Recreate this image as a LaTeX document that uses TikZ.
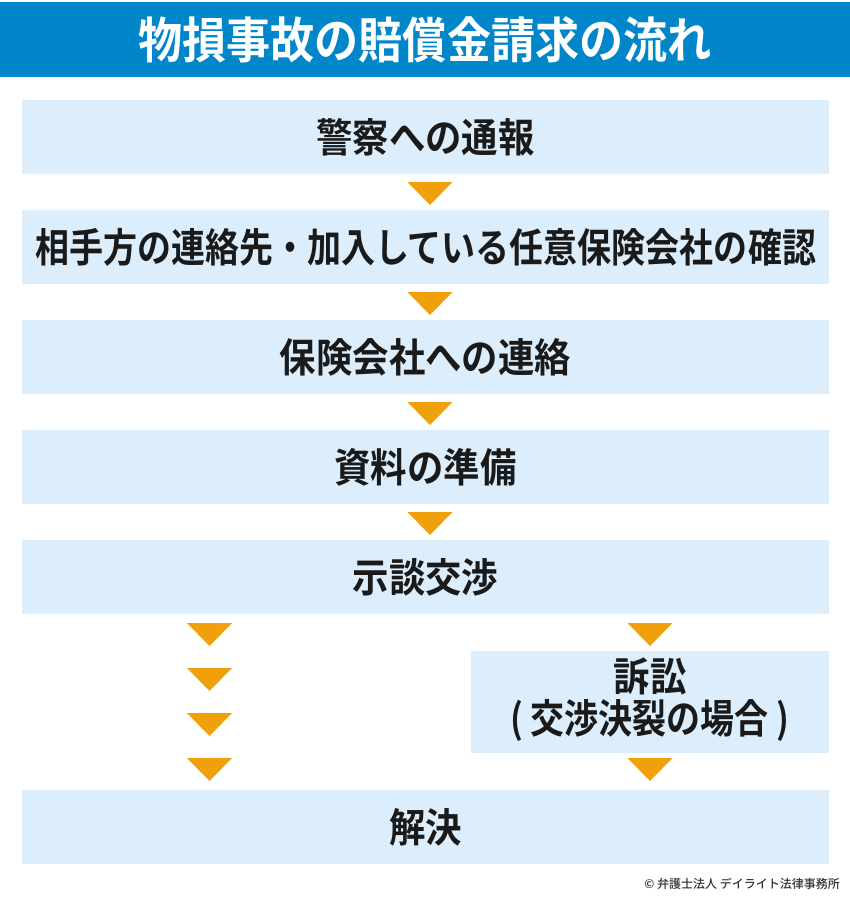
\documentclass[tikz,border=0pt]{standalone}
\usepackage{fontspec}
\newfontfamily\jpb{Noto Sans CJK JP Bold}[FakeStretch=0.91]
\newfontfamily\jpt{Noto Sans CJK JP Bold}[FakeStretch=0.9]
\newfontfamily\jpl{Noto Sans CJK JP Bold}[FakeStretch=0.85]
\newfontfamily\jpc{Noto Sans CJK JP Medium}
\definecolor{barc}{HTML}{0086C9}
\definecolor{boxc}{HTML}{DCEEFC}
\definecolor{tric}{HTML}{F0A00A}
\definecolor{txtc}{HTML}{1A1A1A}
\definecolor{copyc}{HTML}{333333}
\tikzset{
  stepbox/.style={fill=boxc, draw=none, inner sep=0pt, minimum width=807pt, minimum height=74pt,
    text=txtc, font=\jpb\fontsize{40}{43}\selectfont, align=center},
  sidebox/.style={stepbox, minimum width=358pt, minimum height=102pt},
  titlebar/.style={fill=barc, draw=none, inner sep=0pt, minimum width=850pt, minimum height=75pt,
    text=white, font=\jpt\fontsize{49}{52}\selectfont},
  trifill/.style={fill=tric, draw=none}
}
\newcommand{\downtri}[1]{\fill[trifill] (#1) ++(-22.5,0) -- ++(45,0) -- ++(-22.5,23) -- cycle;}
\begin{document}
\begin{tikzpicture}[x=1pt,y=-1pt]
\useasboundingbox (0,0) rectangle (850,910);
\fill[white] (0,0) rectangle (850,910);
\node[titlebar] (title) at (425,39.5) {\raisebox{-1pt}{物損事故の賠償金請求の流れ}};
\node[stepbox] (b1) at (425.5,137) {\raisebox{-6pt}{警察への通報}};
\node[stepbox] (b2) at (425.5,247) {\raisebox{-6pt}{\jpl\fontsize{40}{43}\selectfont 相手方の連絡先・加入している任意保険会社の確認}};
\node[stepbox] (b3) at (425.5,357) {\raisebox{-6pt}{保険会社への連絡}};
\node[stepbox] (b4) at (425.5,467) {\raisebox{-6pt}{資料の準備}};
\node[stepbox] (b5) at (425.5,577) {\raisebox{-6pt}{示談交渉}};
\node[sidebox] (s1) at (650,702) {\raisebox{-9pt}{\begin{tabular}{@{}c@{}}訴訟\\[-5pt]{\jpl\fontsize{40}{43}\selectfont ( 交渉決裂の場合 )}\end{tabular}}};
\node[stepbox] (b6) at (425.5,827) {\raisebox{-6pt}{解決}};
\node[anchor=east, inner sep=0pt, text=copyc, font=\jpc\fontsize{12}{14}\selectfont] (copy) at (840,884) {© 弁護士法人 デイライト法律事務所};
% arrow positions
\coordinate (a1) at (430,182);
\coordinate (a2) at (430,292);
\coordinate (a3) at (430,402);
\coordinate (a4) at (430,512);
\coordinate (l1) at (209.5,623);
\coordinate (l2) at (209.5,668);
\coordinate (l3) at (209.5,713);
\coordinate (l4) at (209.5,758);
\coordinate (r1) at (650,623);
\coordinate (r2) at (650,758);
\downtri{a1}\downtri{a2}\downtri{a3}\downtri{a4}
\downtri{l1}\downtri{l2}\downtri{l3}\downtri{l4}
\downtri{r1}\downtri{r2}
\end{tikzpicture}
\end{document}
